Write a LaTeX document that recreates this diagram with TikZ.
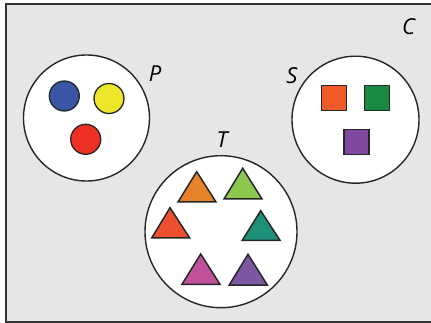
\documentclass[tikz,border=0pt]{standalone}
\usepackage{fontspec}
\setmainfont{Open Sans}
\begin{document}
\begin{tikzpicture}[x=1pt,y=-1pt,
  setcircle/.style={draw=black!85,line width=1.4pt,fill=white},
  dot/.style={draw=black!85,line width=1.3pt},
  sq/.style={draw=black!85,line width=1.5pt},
  tri/.style={draw=black!85,line width=1.5pt,line join=miter},
  lbl/.style={font=\fontsize{22}{22}\selectfont\itshape,inner sep=0pt}]
\definecolor{bggray}{HTML}{E5E6E8}
\definecolor{cblue}{HTML}{3A55A4}
\definecolor{cyellow}{HTML}{EDE62A}
\definecolor{cred}{HTML}{EE3124}
\definecolor{sorange}{HTML}{EF5A28}
\definecolor{sgreen}{HTML}{1A8A43}
\definecolor{spurple}{HTML}{8048A0}
\definecolor{torange}{HTML}{E8822A}
\definecolor{tlime}{HTML}{8DC74F}
\definecolor{tred}{HTML}{EE4F2F}
\definecolor{tteal}{HTML}{1E917A}
\definecolor{tpink}{HTML}{C2519C}
\definecolor{tpurple}{HTML}{7E57A4}
\useasboundingbox (0,0) rectangle (431,323);
% universe C
\fill[white] (0,0) rectangle (431,323);
\draw[fill=bggray,draw=black!80,line width=2pt] (440,4.5) -- (6,4.5) -- (6,322) -- (440,322);
\node[lbl] (lc) at (408.5,27) {C};
% set P
\node[setcircle,circle,minimum size=126pt,inner sep=0pt] (P) at (86.5,118) {};
\node[lbl] (lp) at (155,74) {P};
\node[dot,circle,fill=cblue,minimum size=30pt,inner sep=0pt] (p1) at (64.3,96) {};
\node[dot,circle,fill=cyellow,minimum size=30pt,inner sep=0pt] (p2) at (109,98.5) {};
\node[dot,circle,fill=cred,minimum size=30pt,inner sep=0pt] (p3) at (85.7,139.3) {};
% set S
\node[setcircle,circle,minimum size=127pt,inner sep=0pt] (S) at (355.5,119.7) {};
\node[lbl] (ls) at (292,76) {S};
\node[sq,fill=sorange,minimum size=25pt,inner sep=0pt] (s1) at (334,98) {};
\node[sq,fill=sgreen,minimum size=25pt,inner sep=0pt] (s2) at (377,98) {};
\node[sq,fill=spurple,minimum size=25pt,inner sep=0pt] (s3) at (356.5,142) {};
% set T
\node[setcircle,circle,minimum size=152pt,inner sep=0pt] (T) at (221,231.7) {};
\node[lbl] (lt) at (222,140) {T};
\draw[tri,fill=torange] (178,202) -- (196.7,171.7) -- (216,202) -- cycle;
\draw[tri,fill=tlime] (224,199) -- (242.7,168.3) -- (262,199) -- cycle;
\draw[tri,fill=tred] (151.7,238) -- (170,207.7) -- (189.7,238) -- cycle;
\draw[tri,fill=tteal] (242.3,240.3) -- (260.7,210.7) -- (280,240.3) -- cycle;
\draw[tri,fill=tpink] (182,284.3) -- (200.7,254) -- (220,284.3) -- cycle;
\draw[tri,fill=tpurple] (229.3,285) -- (248,254.3) -- (267.3,285) -- cycle;
\end{tikzpicture}
\end{document}
